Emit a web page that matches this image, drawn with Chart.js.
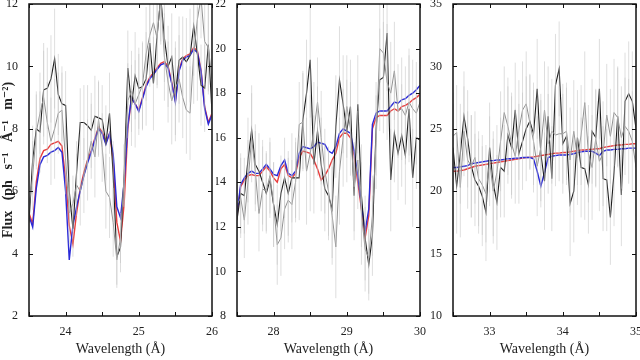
<!DOCTYPE html>
<html><head><meta charset="utf-8">
<script src="https://cdn.jsdelivr.net/npm/chart.js@4/dist/chart.umd.min.js"></script>
<style>
html,body{margin:0;padding:0;background:#fff;}
#wrap{position:relative;width:640px;height:360px;overflow:hidden;}
canvas{position:absolute;left:0;top:0;}
</style></head><body>
<div id="wrap">
<canvas id="c1" width="640" height="360"></canvas>
<canvas id="c2" width="640" height="360"></canvas>
<canvas id="c3" width="640" height="360"></canvas>
</div>
<script>
// ---------- Panel 1 (23.5 - 26 Å) ----------
const wl1 = [23.50,23.55,23.60,23.65,23.70,23.75,23.80,23.85,23.90,23.95,
  24.00,24.05,24.10,24.15,24.20,24.25,24.30,24.35,24.40,24.45,
  24.50,24.55,24.60,24.65,24.70,24.75,24.80,24.85,24.90,24.95,
  25.00,25.05,25.10,25.15,25.20,25.25,25.30,25.35,25.40,25.45,
  25.50,25.55,25.60,25.65,25.70,25.75,25.80,25.85,25.90,25.95,26.00];
const obsA1 = [5.0,7.0,8.0,7.9,9.25,9.3,9.6,10.25,9.1,8.8,
  8.75,6.0,4.8,6.6,8.2,8.2,8.1,7.95,8.4,8.35,
  8.3,7.55,8.5,6.5,3.9,4.2,6.5,9.95,8.75,9.7,
  9.3,9.35,9.6,10.75,9.45,11.0,12.2,10.9,10.0,10.3,
  9.1,10.2,10.3,10.15,10.35,11.3,10.4,9.4,9.3,10.7,8.5];
const obsB1 = [5.5,6.5,7.9,8.5,9.0,8.2,7.6,8.0,8.5,8.6,
  7.0,5.3,5.6,6.2,6.0,6.5,7.0,7.6,7.1,8.3,
  7.4,6.0,5.8,5.0,3.8,4.5,6.5,8.9,9.2,8.8,
  9.1,9.4,10.4,11.0,11.4,10.9,12.3,10.3,9.5,8.9,
  9.3,9.6,9.0,8.6,8.5,10.4,11.5,12.2,10.8,10.6,9.6];
const err1 = [1.0,1.1,1.2,1.3,1.5,1.3,1.4,1.6,1.3,1.2,
  1.1,1.0,0.9,1.0,1.1,1.2,1.3,1.2,1.3,1.2,
  1.1,1.2,1.3,1.1,0.9,0.8,1.0,1.2,1.3,1.4,
  1.3,1.4,1.5,1.4,1.5,1.6,1.5,1.4,1.3,1.4,
  1.5,1.4,1.3,1.4,1.5,1.6,1.5,1.3,1.4,1.5,1.4];
const modRed1 = [5.3,4.95,6.3,7.05,7.3,7.35,7.5,7.55,7.6,7.45,
  6.4,4.9,4.3,5.3,6.1,6.6,7.0,7.3,7.7,8.05,
  7.9,7.55,7.85,7.0,5.0,4.4,5.6,8.0,9.0,8.8,
  8.6,9.0,9.4,9.65,9.8,9.95,10.1,10.15,10.0,9.5,
  8.9,9.9,10.25,10.35,10.4,10.6,10.5,9.9,8.7,8.2,8.5];
const modBlue1 = [5.2,4.85,6.1,6.85,7.1,7.15,7.25,7.3,7.4,7.25,
  6.0,3.8,4.9,5.5,6.0,6.5,6.9,7.25,7.65,8.0,
  7.85,7.5,7.85,7.2,5.5,5.15,6.3,8.1,9.0,8.8,
  8.55,8.95,9.35,9.6,9.75,9.9,10.05,10.1,9.95,9.45,
  8.85,9.85,10.2,10.3,10.35,10.55,10.45,9.85,8.65,8.15,8.45];

// ---------- Panel 2 (27.5 - 30 Å) ----------
const wl2 = [27.50,27.55,27.60,27.65,27.70,27.75,27.80,27.85,27.90,27.95,
  28.00,28.05,28.10,28.15,28.20,28.25,28.30,28.35,28.40,28.45,
  28.50,28.55,28.60,28.65,28.70,28.75,28.80,28.85,28.90,28.95,
  29.00,29.05,29.10,29.15,29.20,29.25,29.30,29.35,29.40,29.45,
  29.50,29.55,29.60,29.65,29.70,29.75,29.80,29.85,29.90,29.95,30.00];
const obsA2 = [12.3,13.5,13.4,15.0,16.35,14.8,14.5,14.0,13.5,14.1,
  13.0,12.1,13.5,14.2,13.5,14.2,14.2,14.2,16.8,18.0,
  19.5,14.8,16.3,14.8,13.7,13.4,12.8,16.5,18.6,17.5,
  16.3,17.4,13.4,17.5,13.4,11.5,10.3,11.6,16.4,18.6,
  18.7,20.7,14.1,16.2,15.3,16.1,15.2,17.3,14.2,16.0,15.9];
const obsB2 = [13.0,13.3,12.3,14.0,16.0,14.5,12.6,13.7,13.6,14.3,
  13.0,11.2,11.5,12.8,13.2,13.0,14.0,16.6,16.7,14.5,
  15.3,16.3,17.6,16.0,14.5,13.6,12.5,11.1,14.5,16.0,
  17.4,16.4,13.8,15.0,12.6,11.0,10.6,12.5,15.8,20.0,
  19.8,18.5,18.0,19.0,17.2,17.3,17.0,17.6,17.3,17.1,17.6];
const err2 = [1.6,1.8,1.7,1.9,2.0,1.8,1.7,1.9,1.8,1.7,
  1.9,1.8,1.7,1.8,1.9,2.0,1.8,1.9,2.2,2.4,
  2.6,2.2,2.0,2.1,1.9,2.0,2.2,2.3,2.4,2.2,
  2.3,2.1,2.0,2.2,2.3,1.9,1.6,1.8,2.1,2.3,
  2.5,2.6,2.3,2.2,2.1,2.3,2.2,2.4,2.2,2.3,2.2];
const modRed2 = [12.5,13.8,14.1,14.3,14.35,14.3,14.3,14.5,14.7,14.5,
  14.2,14.0,14.6,14.8,14.3,14.2,14.4,15.1,15.4,15.35,
  15.3,15.0,14.6,14.1,14.3,14.6,15.0,15.3,16.0,16.2,
  16.2,16.0,15.2,14.0,12.8,11.5,12.5,16.4,16.9,17.0,
  17.0,17.0,17.2,17.3,17.2,17.4,17.45,17.55,17.7,17.8,17.95];
const modBlue2 = [12.6,13.9,14.2,14.4,14.5,14.4,14.4,14.6,14.8,14.6,
  14.35,14.3,14.75,15.0,14.4,14.3,14.5,15.3,15.6,15.55,
  15.5,15.6,15.8,15.75,15.7,15.4,15.3,15.6,16.2,16.4,
  16.3,16.2,15.4,14.3,13.0,11.8,12.8,16.6,17.1,17.2,
  17.2,17.2,17.4,17.6,17.55,17.7,17.75,17.9,18.0,18.15,18.35];

// ---------- Panel 3 (32.5 - 35 Å) ----------
const wl3 = [32.50,32.55,32.60,32.65,32.70,32.75,32.80,32.85,32.90,32.95,
  33.00,33.05,33.10,33.15,33.20,33.25,33.30,33.35,33.40,33.45,
  33.50,33.55,33.60,33.65,33.70,33.75,33.80,33.85,33.90,33.95,
  34.00,34.05,34.10,34.15,34.20,34.25,34.30,34.35,34.40,34.45,
  34.50,34.55,34.60,34.65,34.70,34.75,34.80,34.85,34.90,34.95,35.00];
const obsA3 = [23.5,20.4,23.0,26.0,24.2,22.0,20.9,20.4,19.6,18.3,
  23.5,20.6,19.1,21.9,21.6,24.5,23.5,26.5,23.0,24.0,
  25.0,25.6,24.6,28.2,23.0,20.8,26.0,21.0,28.5,29.8,
  23.8,24.4,19.0,20.0,24.3,21.9,21.8,20.5,24.8,24.3,
  28.2,21.0,20.9,17.9,21.5,26.0,19.7,27.2,27.8,27.2,25.0];
const obsB3 = [24.4,24.7,20.3,24.8,22.5,22.0,22.7,21.0,20.5,19.8,
  22.4,20.0,21.5,24.0,26.3,25.2,23.8,22.8,24.9,26.5,
  27.0,25.5,24.0,22.0,23.5,26.5,23.8,24.8,24.5,24.6,
  24.6,24.8,22.5,24.8,22.7,24.5,27.1,23.0,21.9,24.2,
  22.4,23.0,26.1,24.4,26.3,25.9,24.3,25.2,24.8,24.0,21.9];
const err3 = [3.5,3.8,4.0,3.6,3.9,4.1,3.7,3.8,4.0,3.9,
  3.6,4.2,3.8,4.0,3.7,3.9,4.1,3.8,4.0,3.9,
  4.2,3.8,4.1,4.0,4.3,3.9,4.0,4.2,4.1,3.8,
  4.0,3.9,4.2,4.1,3.8,4.0,4.1,3.9,4.2,3.9,
  4.0,4.2,4.1,3.8,4.3,4.0,4.1,3.9,4.2,4.0,3.9];
const modRed3 = [21.6,21.6,21.65,21.7,21.8,21.9,22.0,22.05,22.1,22.15,
  22.2,22.25,22.3,22.35,22.4,22.45,22.5,22.55,22.6,22.65,
  22.7,22.72,22.75,22.8,22.85,22.9,22.95,23.0,23.05,23.05,
  23.1,23.1,23.15,23.2,23.25,23.3,23.3,23.35,23.35,23.4,
  23.4,23.5,23.55,23.6,23.65,23.7,23.7,23.75,23.75,23.8,23.8];
const modBlue3 = [21.9,21.9,21.95,22.0,22.05,22.2,22.25,22.3,22.35,22.4,
  22.45,22.45,22.5,22.5,22.55,22.6,22.6,22.65,22.65,22.7,
  22.7,22.7,22.6,21.6,20.4,21.5,22.7,22.8,22.85,22.9,
  22.9,22.9,22.95,23.0,23.1,23.15,23.2,23.2,23.2,23.05,
  22.85,23.2,23.3,23.3,23.35,23.35,23.4,23.4,23.45,23.45,23.45];

const xTitle = 'Wavelength (Å)';
const yTitle = 'Flux   (ph   s⁻¹   Å⁻¹   m⁻²)';
const FONT = "'Liberation Serif', 'DejaVu Serif', serif";

function pts(xs, ys) { return xs.map((x, i) => ({x: x, y: ys[i]})); }
function errPts(xs, ys, es) {
  const out = [];
  xs.forEach((x, i) => {
    out.push({x: x, y: ys[i] - es[i]});
    out.push({x: x, y: ys[i] + es[i]});
    out.push({x: x, y: null});
  });
  return out;
}

const frameTicks = {
  id: 'frameTicks',
  afterDatasetsDraw(chart) {
    const ctx = chart.ctx, a = chart.chartArea, xs = chart.scales.x, ys = chart.scales.y;
    ctx.save();
    ctx.strokeStyle = '#111';
    ctx.lineWidth = 1;
    ctx.beginPath();
    xs.ticks.forEach(t => {
      const px = Math.round(xs.getPixelForValue(t.value)) + 0.5;
      ctx.moveTo(px, a.bottom); ctx.lineTo(px, a.bottom - 4);
      ctx.moveTo(px, a.top); ctx.lineTo(px, a.top + 4);
    });
    ys.ticks.forEach(t => {
      const py = Math.round(ys.getPixelForValue(t.value)) + 0.5;
      ctx.moveTo(a.left, py); ctx.lineTo(a.left + 4, py);
      ctx.moveTo(a.right, py); ctx.lineTo(a.right - 4, py);
    });
    ctx.stroke();
    ctx.lineWidth = 1.5;
    ctx.strokeRect(a.left, a.top, a.right - a.left, a.bottom - a.top);
    ctx.restore();
  }
};

function makePanel(id, cfg) {
  const datasets = [
    {data: errPts(cfg.wl, cfg.obsB, cfg.err), borderColor: 'rgba(195,195,195,0.55)', borderWidth: 1, spanGaps: false},
    {data: errPts(cfg.wl, cfg.obsA, cfg.err), borderColor: 'rgba(195,195,195,0.55)', borderWidth: 1, spanGaps: false},
    {data: pts(cfg.wl, cfg.obsB), borderColor: '#909090', borderWidth: 1},
    {data: pts(cfg.wl, cfg.obsA), borderColor: '#1e1e1e', borderWidth: 1.1},
    {data: pts(cfg.wl, cfg.blue), borderColor: '#2a2ad8', borderWidth: 1.4},
    {data: pts(cfg.wl, cfg.red), borderColor: 'rgba(230,40,40,0.9)', borderWidth: 1.4}
  ];
  datasets.forEach(d => { d.pointRadius = 0; d.tension = 0; d.fill = false; });
  return new Chart(document.getElementById(id), {
    type: 'line',
    data: {datasets: datasets},
    options: {
      responsive: false, animation: false, events: [],
      layout: {padding: {left: cfg.padL, right: cfg.padR, top: 4, bottom: 0}},
      plugins: {legend: {display: false}, tooltip: {enabled: false}},
      scales: {
        x: {
          type: 'linear', min: cfg.xmin, max: cfg.xmax,
          grid: {display: false}, border: {display: false},
          ticks: {stepSize: 0.5, autoSkip: false, maxRotation: 0, padding: 1, color: '#222',
            font: {family: FONT, size: 12},
            callback: v => Math.abs(v - Math.round(v)) < 1e-6 ? String(Math.round(v)) : ''},
          title: {display: true, text: xTitle, color: '#222', font: {family: FONT, size: 14}, padding: {top: 0, bottom: 2}},
          afterFit: s => { s.height = 44; s.paddingLeft = 0; s.paddingRight = 0; }
        },
        y: {
          min: cfg.ymin, max: cfg.ymax,
          grid: {display: false}, border: {display: false},
          ticks: {stepSize: cfg.ystep, padding: 3, color: '#222', font: {family: FONT, size: 12}},
          title: {display: cfg.showY, text: yTitle, color: '#222', font: {family: FONT, size: 14, weight: 'bold'}, padding: {top: 0, bottom: 0}},
          afterFit: s => { s.width = cfg.yw; s.paddingTop = 0; s.paddingBottom = 0; }
        }
      }
    },
    plugins: [frameTicks]
  });
}

makePanel('c1', {wl: wl1, obsA: obsA1, obsB: obsB1, err: err1, red: modRed1, blue: modBlue1,
  xmin: 23.5, xmax: 26, ymin: 2, ymax: 12, ystep: 2, padL: 0, padR: 428, yw: 29, showY: true});
makePanel('c2', {wl: wl2, obsA: obsA2, obsB: obsB2, err: err2, red: modRed2, blue: modBlue2,
  xmin: 27.5, xmax: 30, ymin: 8, ymax: 22, ystep: 2, padL: 216, padR: 220, yw: 21, showY: false});
makePanel('c3', {wl: wl3, obsA: obsA3, obsB: obsB3, err: err3, red: modRed3, blue: modBlue3,
  xmin: 32.5, xmax: 35, ymin: 10, ymax: 35, ystep: 5, padL: 424, padR: 4, yw: 29, showY: false});
</script>
</body></html>
